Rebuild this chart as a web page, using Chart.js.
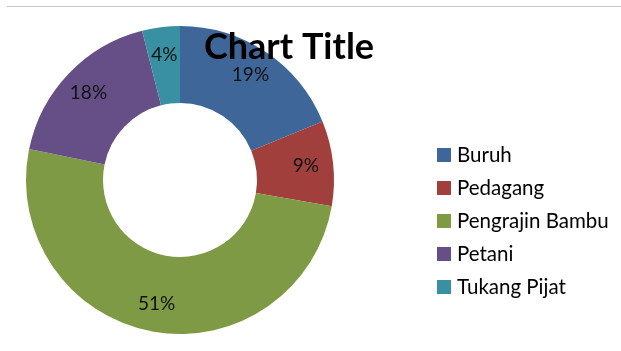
<!DOCTYPE html>
<html>
<head>
<meta charset="utf-8">
<script src="https://cdn.jsdelivr.net/npm/chart.js@4/dist/chart.umd.min.js"></script>
<style>
  body { margin: 0; background: #fff; }
  #wrap { position: relative; width: 621px; height: 351px; overflow: hidden; }
  #topline { position: absolute; left: 7px; top: 6px; width: 614px; height: 0; border-top: 1px solid #c8c8c8; }
  canvas { position: absolute; left: 0; top: 0; }
</style>
</head>
<body>
<div id="wrap">
  <div id="topline"></div>
  <canvas id="chart" width="621" height="351"></canvas>
</div>
<script>
const categories = ["Buruh", "Pedagang", "Pengrajin Bambu", "Petani", "Tukang Pijat"];
const shares = [19, 9, 51, 18, 4];
const labelsText = ["19%", "9%", "51%", "18%", "4%"];
const colors = ["#3E6699", "#A13F3C", "#7E9A44", "#664F87", "#3A90A3"];
const titleText = "Chart Title";

const FONT = "Lato, 'Open Sans', sans-serif";

const overlay = {
  id: "overlay",
  afterDraw(chart) {
    const ctx = chart.ctx;
    const meta = chart.getDatasetMeta(0);
    ctx.save();
    // data labels in the ring, a bit outside the middle like Excel
    ctx.font = "19px " + FONT;
    ctx.fillStyle = "#111";
    ctx.textAlign = "center";
    ctx.textBaseline = "middle";
    meta.data.forEach((arc, i) => {
      const p = arc.getProps(["x", "y", "startAngle", "endAngle", "innerRadius", "outerRadius"]);
      const mid = (p.startAngle + p.endAngle) / 2;
      const r = (p.innerRadius + p.outerRadius) / 2 + 11;
      ctx.fillText(labelsText[i], p.x + Math.cos(mid) * r, p.y + Math.sin(mid) * r);
    });
    // title
    ctx.font = "bold 36px " + FONT;
    ctx.fillStyle = "#000";
    ctx.fillText(titleText, 289, 47);
    // legend
    ctx.font = "20.5px " + FONT;
    ctx.textAlign = "left";
    chart.data.labels.forEach((lab, i) => {
      const y = 155 + i * 33;
      ctx.fillStyle = chart.data.datasets[0].backgroundColor[i];
      ctx.fillRect(437, y - 7, 14, 14);
      ctx.fillStyle = "#000";
      ctx.fillText(lab, 457, y);
    });
    ctx.restore();
  }
};

new Chart(document.getElementById("chart"), {
  type: "doughnut",
  data: {
    labels: categories,
    datasets: [{
      data: shares,
      backgroundColor: colors,
      borderWidth: 0
    }]
  },
  options: {
    responsive: false,
    animation: false,
    cutout: "50%",
    layout: { padding: { left: 26, right: 287, top: 26, bottom: 17 } },
    plugins: {
      legend: { display: false },
      title: { display: false },
      tooltip: { enabled: false }
    }
  },
  plugins: [overlay]
});
</script>
</body>
</html>
